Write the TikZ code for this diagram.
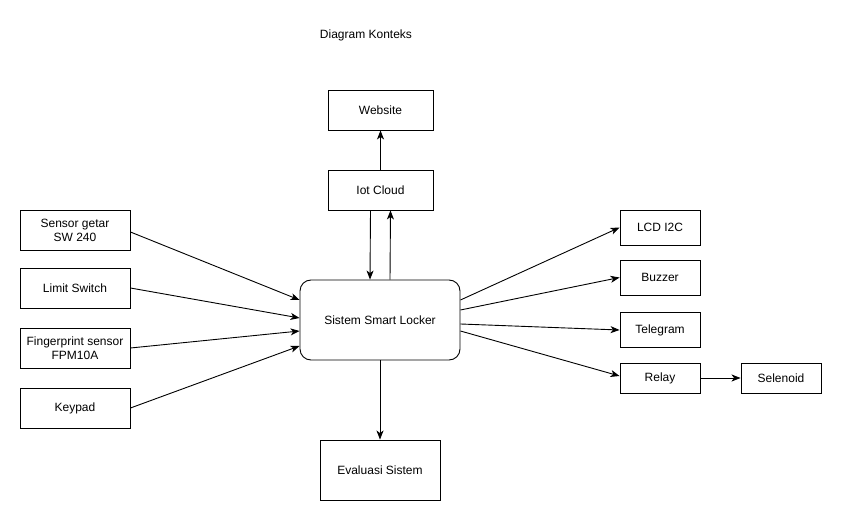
\documentclass[tikz,border=0pt]{standalone}
\usepackage{fontspec}
\setmainfont{Liberation Sans}
\usetikzlibrary{arrows.meta,calc}
\begin{document}
\begin{tikzpicture}[x=1pt,y=-1pt,
  font=\fontsize{12}{14}\selectfont,
  box/.style={draw,line width=0.9pt,minimum width=#1,align=center,inner sep=0pt},
  conn/.style={line width=0.9pt,-{Stealth[length=9pt,width=7pt,inset=2.5pt]}}]
\useasboundingbox (0,0) rectangle (841,521);
\node (title) at (366,35) {Diagram Konteks};
\node[box=105pt,minimum height=40pt] (web) at (380.5,110) {Website};
\node[box=105pt,minimum height=40pt] (iot) at (380.5,190) {Iot Cloud};
\node[box=160pt,minimum height=80pt,rounded corners=11pt] (ssl) at (380,320) {Sistem Smart Locker};
\node[box=120pt,minimum height=60pt] (eval) at (380,470) {Evaluasi Sistem};
\node[box=110pt,minimum height=40pt] (sg) at (75,230) {Sensor getar\\SW 240};
\node[box=110pt,minimum height=40pt] (ls) at (75,288) {Limit Switch};
\node[box=110pt,minimum height=40pt] (fp) at (75,348) {Fingerprint sensor\\FPM10A};
\node[box=110pt,minimum height=40pt] (kp) at (75,408) {Keypad};
\node[box=80pt,minimum height=35pt] (lcd) at (660,227.5) {LCD I2C};
\node[box=80pt,minimum height=35pt] (buz) at (660,277.5) {Buzzer};
\node[box=80pt,minimum height=35pt] (tel) at (660,330) {Telegram};
\node[box=80pt,minimum height=30pt] (rel) at (660,378) {Relay};
\node[box=80pt,minimum height=30pt] (sel) at (781,378) {Selenoid};
\draw[conn] (iot) -- (web);
\draw[conn] ($(iot.south)+(-10,0)$) -- ($(ssl.north)+(-10,0)$);
\draw[conn] ($(ssl.north)+(10,0)$) -- ($(iot.south)+(10,0)$);
\draw[conn] (ssl) -- (eval);
\draw[conn] ($(sg.east)+(0,2)$) -- ($(ssl.west)+(0,-20)$);
\draw[conn] (ls.east) -- ($(ssl.west)+(0,-2)$);
\draw[conn] (fp.east) -- ($(ssl.west)+(0,11)$);
\draw[conn] (kp.east) -- ($(ssl.west)+(0,26)$);
\draw[conn] ($(ssl.east)+(0,-20)$) -- (lcd.west);
\draw[conn] ($(ssl.east)+(0,-10)$) -- (buz.west);
\draw[conn] ($(ssl.east)+(0,4)$) -- (tel.west);
\draw[conn] ($(ssl.east)+(0,11)$) -- ($(rel.west)+(0,-2)$);
\draw[conn] (rel) -- (sel);
\end{tikzpicture}
\end{document}
